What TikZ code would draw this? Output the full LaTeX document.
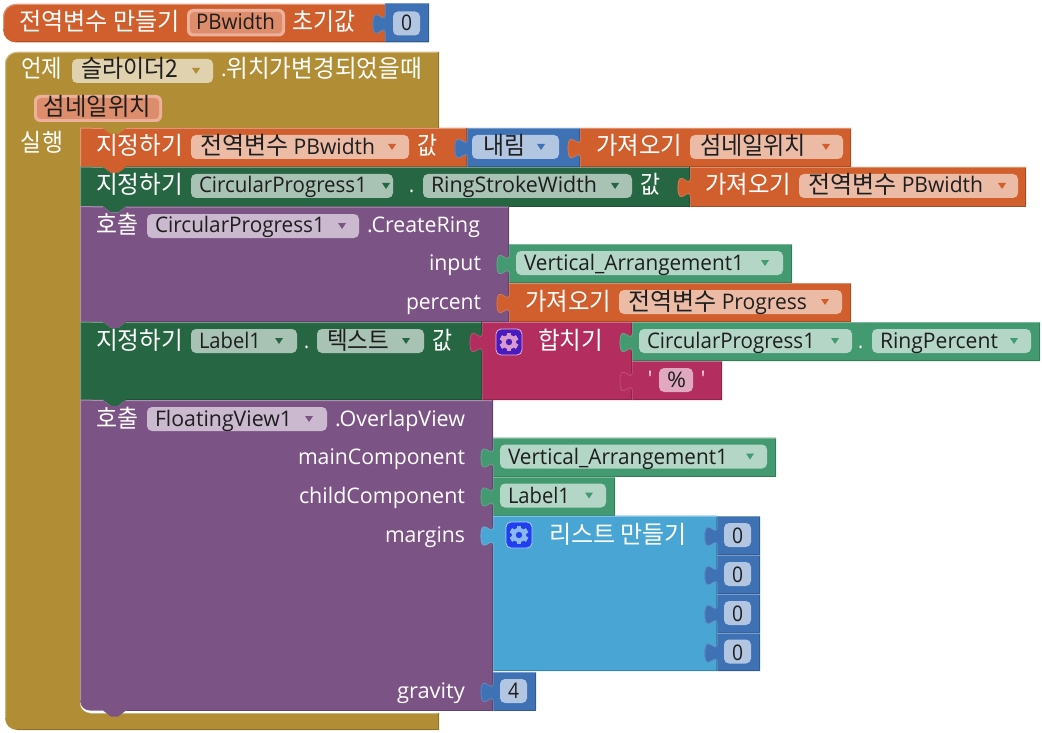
\documentclass[tikz,border=0pt]{standalone}
\usepackage{fontspec}
\usepackage{graphicx}
\setmainfont{Open Sans}
\newfontfamily\krf{Noto Sans CJK KR}
\newfontfamily\qf{Open Sans}[Ligatures=TeXOff]
\definecolor{cor}{HTML}{D05F2D}
\definecolor{cbl}{HTML}{3F71B5}
\definecolor{cdg}{HTML}{266643}
\definecolor{cgr}{HTML}{439970}
\definecolor{cpu}{HTML}{7C5385}
\definecolor{cma}{HTML}{B32D5E}
\definecolor{cli}{HTML}{49A6D4}
\definecolor{col}{HTML}{B18E35}
\definecolor{for}{HTML}{ECBBA6}
\definecolor{fbl}{HTML}{B2C6E1}
\definecolor{fdg}{HTML}{A8C2B4}
\definecolor{fgr}{HTML}{B3D6C6}
\definecolor{fpu}{HTML}{CBBACF}
\definecolor{fma}{HTML}{E0A9BF}
\definecolor{fol}{HTML}{E0D1AF}
\definecolor{pfill}{HTML}{DE8D6C}
\definecolor{pline}{HTML}{EDB09A}
\definecolor{ink}{HTML}{1E1E1E}
\definecolor{gjb}{HTML}{4A1ABF}
\definecolor{gjg}{HTML}{D69ACD}
\definecolor{glb}{HTML}{1F3FF0}
\definecolor{glg}{HTML}{8CB8EE}
\newcounter{tn}
\tikzset{
  lbl/.style={inner sep=0pt,outer sep=0pt,anchor=base west},
  hi/.style={line width=1pt},
}
\newcommand\kr[1]{\raisebox{-1pt}{\fontsize{24.5}{26}\selectfont\krf #1}}
% text: x1 x2 baseline colour content (horizontal fit to the measured width)
\newcommand\tx[5]{\stepcounter{tn}\pgfmathsetmacro\tw{#2-#1}%
  \node[lbl,text=#4] (t\arabic{tn}) at (#1,#3) {\fontsize{21.5}{24}\selectfont\resizebox{\tw pt}{\height}{\strut #5}};}
% value block with puzzle tab: colour x1 x2 T B
\newcommand\vb[5]{%
  \fill[#1] (#2,#4) -- (#3,#4) -- (#3,#5) -- (#2,#5) -- ({#2},{#4+31})
    .. controls ({#2},{#4+17}) and ({#2-12.4},{#4+42.2}) .. ({#2-12.4},{#4+20.5})
    .. controls ({#2-12.4},{#4-1.2}) and ({#2},{#4+24}) .. ({#2},{#4+10}) -- cycle;
  \draw[line width=.6pt,#1!80!white] ({#2+.4},{#5}) -- ({#2+.4},{#4+31})
    .. controls ({#2+.4},{#4+17}) and ({#2-12},{#4+42.2}) .. ({#2-12},{#4+20.5})
    .. controls ({#2-12},{#4-1.2}) and ({#2+.4},{#4+24}) .. ({#2+.4},{#4+10}) -- ({#2+.4},{#4+.5});
  \draw[hi,#1!70!white] ({#2+.4},{#4+.5}) -- ({#3},{#4+.5});
  \draw[hi,#1!80!black] ({#2+1},{#5-.5}) -- ({#3-.5},{#5-.5}) -- ({#3-.5},{#4+1});}
% statement block: colour x2 T B bottom-left radius
\newcommand\sbk[5]{%
  \fill[#1] (80,#3) -- (103,#3) -- (111,{#3+6}) -- (118,{#3+6}) -- (126,#3)
    -- (#2,#3) -- (#2,#4) -- (126,#4) -- (118,{#4+6}) -- (111,{#4+6}) -- (103,#4) -- ({80+#5},#4)
    .. controls ({80+.45*#5},#4) and (80,{#4-.45*#5}) .. (80,{#4-#5}) -- cycle;
  \draw[hi,#1!65!white] (80.5,{#4-#5}) -- (80.5,#3) -- (103,{#3+.5}) (126,{#3+.5}) -- (#2,{#3+.5});
  \draw[hi,#1!80!black] ({#2-.5},#3) -- ({#2-.5},{#4-.5}) -- (126,{#4-.5});}
% field pill: fill x1 x2 T
\newcommand\fld[4]{\fill[#1,rounded corners=5pt] (#2,{#4+7}) rectangle (#3,{#4+31});}
% dropdown arrow: colour cx T
\newcommand\arr[3]{\fill[#1] ({#2-4},{#3+16}) -- ({#2+4},{#3+16}) -- (#2,{#3+22}) -- cycle;}
% gear icon: bg gear cx cy
\newcommand\gear[4]{%
  \fill[#1,rounded corners=5pt,draw=#2!70!white,line width=.8pt] ({#3-13},{#4-13}) rectangle ({#3+13},{#4+13});
  \foreach \a in {0,60,...,300}{\fill[#2,rotate around={\a:(#3,#4)}] ({#3-2.4},{#4-9.3}) rectangle ({#3+2.4},{#4+9.3});}
  \fill[#2] (#3,#4) circle[radius=7.2pt];
  \fill[#1] (#3,#4) circle[radius=3.2pt];}
\begin{document}
\begin{tikzpicture}[x=1pt,y=-1pt]
\useasboundingbox (0,0) rectangle (1042,733);
\fill[white] (0,0) rectangle (1042,733);

% --- global variable
\fill[cor] (16,4) -- (385,4) -- (385,42.5) -- (16,42.5) .. controls (8.8,42.5) and (3,36.7) .. (3,29.5) -- (3,17) .. controls (3,9.8) and (8.8,4) .. (16,4) -- cycle;
\draw[hi,cor!65!white] (3.5,29) -- (3.5,17) .. controls (3.5,10) and (9,4.5) .. (16,4.5) -- (385,4.5);
\draw[hi,cor!80!black] (16,42) -- (385,42);
\vb{cbl}{385}{429}{3.5}{42.5}
\fill[pline,rounded corners=6pt] (187,9) rectangle (285,36.5);
\fill[pfill,rounded corners=4pt] (190,12) rectangle (282,33.5);
\fld{fbl}{393}{420}{4.5}
\tx{19}{180}{30}{white}{\kr{전역변수 만들기}}
\tx{196}{275}{30}{ink}{PBwidth}
\tx{292}{355}{30}{white}{\kr{초기값}}
\tx{401}{412}{31}{ink}{0}

% --- event block
\fill[col] (17,52) -- (439,52) -- (439,128) -- (126,128) -- (118,134) -- (111,134) -- (103,128) -- (90,128)
  .. controls (84.5,128) and (80,132.5) .. (80,138) -- (80,703) .. controls (80,708.5) and (84.5,713) .. (90,713) -- (439,713) -- (439,730)
  -- (17,730) .. controls (10.4,730) and (5,724.6) .. (5,718) -- (5,64) .. controls (5,57.4) and (10.4,52) .. (17,52) -- cycle;
\draw[hi,col!65!white] (5.5,718) -- (5.5,64) .. controls (5.5,57.4) and (10.6,52.5) .. (17,52.5) -- (439,52.5);
\draw[hi,col!65!white] (90,713.5) -- (439,713.5);
\draw[hi,col!80!black] (17,729.5) -- (438.5,729.5) -- (438.5,713);
\draw[hi,col!80!black] (438.5,52) -- (438.5,128);
\fill[fol,rounded corners=5pt] (72,59) rectangle (213,83);
\arr{col}{196}{52}
\fill[pline,rounded corners=6pt] (34,95) rectangle (162,122);
\fill[pfill,rounded corners=4pt] (37,98) rectangle (159,119);
\tx{21}{62}{77}{white}{\kr{언제}}
\tx{81}{178}{77}{ink}{\kr{슬라이더2}}
\tx{221}{422}{77}{white}{.\kr{위치가변경되었을때}}
\tx{44}{151}{115}{ink}{\kr{섬네일위치}}
\tx{21}{63}{151}{white}{\kr{실행}}

% --- statements
\sbk{cor}{467}{128}{167}{0}
\sbk{cdg}{690}{167}{206.5}{0}
\sbk{cpu}{509}{206.5}{322}{0}
\sbk{cdg}{482}{322}{400}{0}
\sbk{cpu}{493}{400}{710.5}{10}

% row 1
\fld{for}{191}{409}{128}\arr{cor}{392}{128}
\tx{96}{183}{154}{white}{\kr{지정하기}}
\tx{200}{375}{154}{ink}{\kr{전역변수} PBwidth}
\tx{417}{437}{154}{white}{\kr{값}}
\vb{cbl}{467}{580}{128}{167}
\fld{fbl}{472}{559}{128}\arr{cbl}{541}{128}
\tx{483}{525}{154}{ink}{\kr{내림}}
\vb{cor}{580}{851}{128}{167}
\fld{for}{690}{843}{128}\arr{cor}{826}{128}
\tx{596}{682}{154}{white}{\kr{가져오기}}
\tx{700}{806}{154}{ink}{\kr{섬네일위치}}

% row 2
\fld{fdg}{191}{393}{167}\arr{cdg}{386}{167}
\fld{fdg}{423}{632}{167}\arr{cdg}{615}{167}
\tx{96}{183}{193}{white}{\kr{지정하기}}
\tx{199}{367}{193}{ink}{CircularProgress1}
\tx{409}{414}{193}{white}{.}
\tx{431}{597}{193}{ink}{RingStrokeWidth}
\tx{640}{660}{193}{white}{\kr{값}}
\vb{cor}{690}{1026}{167}{206.5}
\fld{for}{799}{1018}{167}\arr{cor}{1002}{167}
\tx{705}{791}{193}{white}{\kr{가져오기}}
\tx{808}{983}{193}{ink}{\kr{전역변수} PBwidth}

% row 3
\fill[fpu,rounded corners=5pt] (147,214) rectangle (359,238);
\arr{cpu}{342}{207}
\tx{96}{138}{233}{white}{\kr{호출}}
\tx{155}{325}{233}{ink}{CircularProgress1}
\tx{367}{480}{233}{white}{.CreateRing}
\tx{429}{481}{270}{white}{input}
\tx{406}{481}{309}{white}{percent}
\vb{cgr}{509}{792}{244}{283}
\fld{fgr}{516}{783}{244}\arr{cgr}{765}{244}
\tx{524}{744}{270}{ink}{Vertical\_Arrangement1}
\vb{cor}{509}{851}{283}{322}
\fld{for}{619}{842}{283}\arr{cor}{825}{283}
\tx{525}{611}{309}{white}{\kr{가져오기}}
\tx{628}{807}{309}{ink}{\kr{전역변수} Progress}

% row 4
\fld{fdg}{191}{297}{322}\arr{cdg}{279}{322}
\fld{fdg}{317}{424}{322}\arr{cdg}{406}{322}
\tx{96}{183}{348}{white}{\kr{지정하기}}
\tx{199}{261}{348}{ink}{Label1}
\tx{304}{309}{348}{white}{.}
\tx{327}{389}{348}{ink}{\kr{텍스트}}
\tx{432}{452}{348}{white}{\kr{값}}
\vb{cma}{482}{632}{322}{400}
\gear{gjb}{gjg}{509}{342}
\tx{538}{603}{348}{white}{\kr{합치기}}
\vb{cgr}{632}{1040}{322}{361}
\fld{fgr}{639}{852}{322}\arr{cgr}{835}{322}
\fld{fgr}{872}{1031}{322}\arr{cgr}{1014}{322}
\tx{647}{815}{348}{ink}{CircularProgress1}
\tx{858}{863}{348}{white}{.}
\tx{880}{998}{348}{ink}{RingPercent}
\vb{cma}{632}{722}{361}{400}
\fld{fma}{659}{693}{361}
\tx{648}{652}{386}{white}{{\qf '}}
\tx{701}{705}{386}{white}{{\qf '}}
\tx{667}{686}{387}{ink}{\%}

% row 5
\fill[fpu,rounded corners=5pt] (147,407) rectangle (327,431);
\arr{cpu}{309}{400}
\tx{96}{138}{426}{white}{\kr{호출}}
\tx{155}{292}{426}{ink}{FloatingView1}
\tx{335}{465}{426}{white}{.OverlapView}
\tx{298}{465}{464}{white}{mainComponent}
\tx{299}{465}{503}{white}{childComponent}
\tx{385}{465}{542}{white}{margins}
\tx{397}{465}{698}{white}{gravity}
\vb{cgr}{493}{776}{437.5}{476.5}
\fld{fgr}{500}{767}{437.5}\arr{cgr}{750}{437.5}
\tx{508}{728}{464}{ink}{Vertical\_Arrangement1}
\vb{cgr}{493}{615}{476.5}{515.5}
\fld{fgr}{500}{606}{476.5}\arr{cgr}{589}{476.5}
\tx{508}{570}{503}{ink}{Label1}
\vb{cli}{493}{717}{515.5}{671}
\gear{glb}{glg}{519}{535}
\tx{549}{687}{542}{white}{\kr{리스트 만들기}}
\vb{cbl}{717}{760}{516}{555}
\vb{cbl}{717}{760}{555}{594}
\vb{cbl}{717}{760}{594}{632.5}
\vb{cbl}{717}{760}{632.5}{671}
\fld{fbl}{724}{751}{516}
\fld{fbl}{724}{751}{555}
\fld{fbl}{724}{751}{594}
\fld{fbl}{724}{751}{632.5}
\tx{732}{743}{543}{ink}{0}
\tx{732}{743}{582}{ink}{0}
\tx{732}{743}{621}{ink}{0}
\tx{732}{743}{660}{ink}{0}
\vb{cbl}{493}{536}{672}{710.5}
\fld{fbl}{500}{527}{672}
\tx{508}{519}{698}{ink}{4}
\end{tikzpicture}
\end{document}
